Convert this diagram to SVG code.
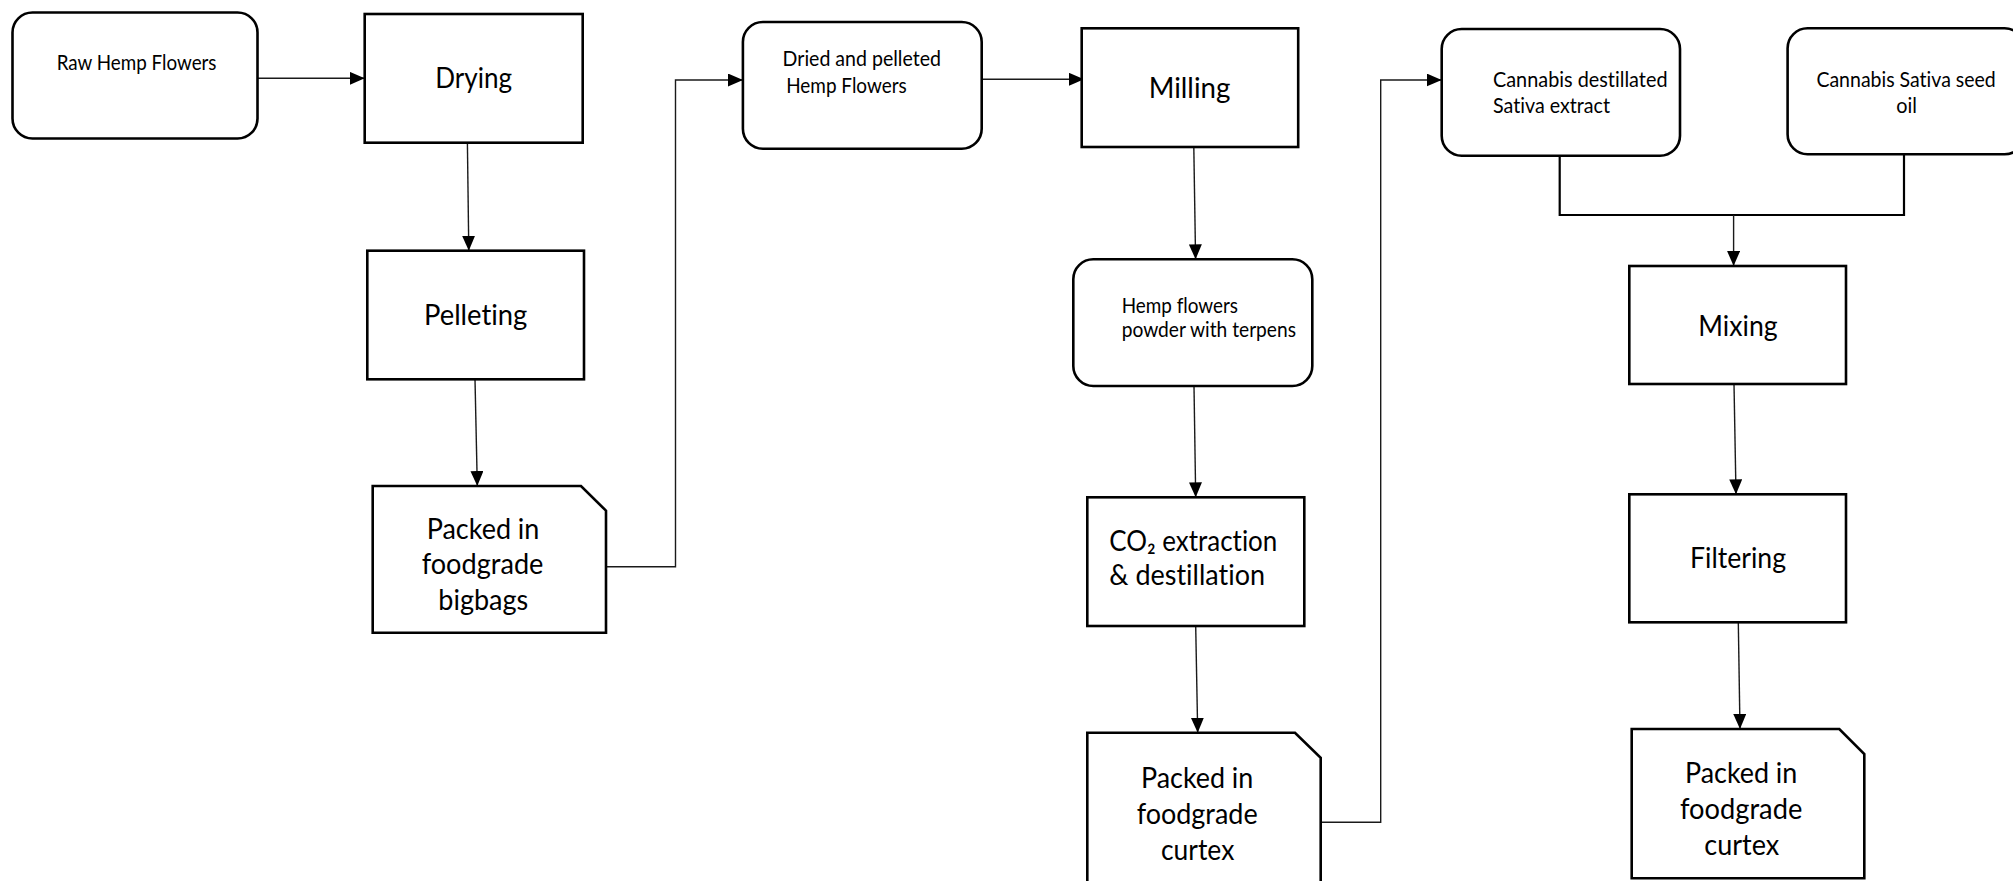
<svg xmlns="http://www.w3.org/2000/svg" width="2013" height="881" viewBox="0 0 2013 881">
<defs>
<style>
.box{fill:#fff;stroke:#000;stroke-width:2.6}
.t{font-family:Lato,"Open Sans","Liberation Sans",sans-serif;fill:#000;font-variant-ligatures:none;font-feature-settings:"liga" 0}
.s{font-size:20.5px}
.l{font-size:29px}
.c{fill:none;stroke:#1a1a1a;stroke-width:1.4}
.cb{fill:none;stroke:#000;stroke-width:2.2}
</style>
<marker id="ah" markerUnits="userSpaceOnUse" viewBox="0 0 15 13" refX="15" refY="6.5" markerWidth="15" markerHeight="13" orient="auto">
<path d="M0,0 L15,6.5 L0,13 Z" fill="#000"/>
</marker>
</defs>
<rect width="2013" height="881" fill="#fff"/>

<g id="connectors">
<path class="c" d="M257.6,78.3 H364.7" marker-end="url(#ah)"/>
<path class="c" d="M467.4,142.7 L468.8,250.7" marker-end="url(#ah)"/>
<path class="c" d="M475,379.3 L477.3,486" marker-end="url(#ah)"/>
<path class="c" d="M606,566.7 H675.5 V80 H743" marker-end="url(#ah)"/>
<path class="c" d="M981.7,79.3 H1084" marker-end="url(#ah)"/>
<path class="c" d="M1193.8,147 L1195.6,259.3" marker-end="url(#ah)"/>
<path class="c" d="M1194,386 L1195.7,497.3" marker-end="url(#ah)"/>
<path class="c" d="M1195.7,626 L1197.7,732.7" marker-end="url(#ah)"/>
<path class="c" d="M1320.7,822.3 H1380.7 V80 H1441.7" marker-end="url(#ah)"/>
<path class="cb" d="M1559.7,155.7 V215 H1904 V153"/>
<path class="c" d="M1733.6,215 V266" marker-end="url(#ah)"/>
<path class="c" d="M1734,384 L1736,494.3" marker-end="url(#ah)"/>
<path class="c" d="M1738.3,622.3 L1740,729" marker-end="url(#ah)"/>
</g>

<g id="raw">
<rect class="box" x="12.5" y="12.5" width="245" height="126" rx="20"/>
<text class="t s" x="56.7" y="70" textLength="159.8" lengthAdjust="spacingAndGlyphs">Raw Hemp Flowers</text>
</g>

<g id="drying">
<rect class="box" x="364.7" y="14" width="218" height="128.7"/>
<text class="t l" x="435.3" y="88.3" textLength="76.8" lengthAdjust="spacingAndGlyphs">Drying</text>
</g>

<g id="pelleting">
<rect class="box" x="367.3" y="250.7" width="216.7" height="128.6"/>
<text class="t l" x="424" y="325" textLength="103.3" lengthAdjust="spacingAndGlyphs">Pelleting</text>
</g>

<g id="bigbags">
<path class="box" d="M372.7,486 H581 L606,510.7 V632.7 H372.7 Z"/>
<text class="t l" x="426.7" y="539.3" textLength="112.7" lengthAdjust="spacingAndGlyphs">Packed in</text>
<text class="t l" x="421.7" y="574.3" textLength="121.7" lengthAdjust="spacingAndGlyphs">foodgrade</text>
<text class="t l" x="438.3" y="610" textLength="90" lengthAdjust="spacingAndGlyphs">bigbags</text>
</g>

<g id="dried">
<rect class="box" x="742.9" y="22" width="238.8" height="126.7" rx="20"/>
<text class="t s" x="782.6" y="65.7" textLength="158.4" lengthAdjust="spacingAndGlyphs">Dried and pelleted</text>
<text class="t s" x="786.2" y="92.7" textLength="120.5" lengthAdjust="spacingAndGlyphs">Hemp Flowers</text>
</g>

<g id="milling">
<rect class="box" x="1081.7" y="28.3" width="216.5" height="118.7"/>
<text class="t l" x="1148.7" y="98.3" textLength="81.7" lengthAdjust="spacingAndGlyphs">Milling</text>
</g>

<g id="powder">
<rect class="box" x="1073.3" y="259.3" width="239" height="126.7" rx="20"/>
<text class="t s" x="1121.7" y="312.7" textLength="116.3" lengthAdjust="spacingAndGlyphs">Hemp flowers</text>
<text class="t s" x="1121.7" y="337.3" textLength="174.3" lengthAdjust="spacingAndGlyphs">powder with terpens</text>
</g>

<g id="co2">
<rect class="box" x="1087.3" y="497.3" width="217" height="128.7"/>
<text class="t l" x="1109.3" y="550.7" textLength="168" lengthAdjust="spacingAndGlyphs">CO₂ extraction</text>
<text class="t l" x="1109.3" y="585" textLength="155.7" lengthAdjust="spacingAndGlyphs">&amp; destillation</text>
</g>

<g id="curtex1">
<path class="box" d="M1087.3,732.7 H1295 L1320.7,757.7 V890 H1087.3 Z"/>
<text class="t l" x="1141" y="788.3" textLength="112.3" lengthAdjust="spacingAndGlyphs">Packed in</text>
<text class="t l" x="1136.7" y="824" textLength="121" lengthAdjust="spacingAndGlyphs">foodgrade</text>
<text class="t l" x="1161" y="860" textLength="73.3" lengthAdjust="spacingAndGlyphs">curtex</text>
</g>

<g id="extract">
<rect class="box" x="1441.7" y="29" width="238.3" height="126.7" rx="20"/>
<text class="t s" x="1493" y="86.7" textLength="174.5" lengthAdjust="spacingAndGlyphs">Cannabis destillated</text>
<text class="t s" x="1493" y="112.7" textLength="117" lengthAdjust="spacingAndGlyphs">Sativa extract</text>
</g>

<g id="seedoil">
<rect class="box" x="1787.6" y="28.3" width="237" height="126" rx="20"/>
<text class="t s" x="1816.4" y="86.7" textLength="179.4" lengthAdjust="spacingAndGlyphs">Cannabis Sativa seed</text>
<text class="t s" x="1896.2" y="112.7" textLength="20.7" lengthAdjust="spacingAndGlyphs">oil</text>
</g>

<g id="mixing">
<rect class="box" x="1629.3" y="266" width="216.7" height="118"/>
<text class="t l" x="1698.3" y="336" textLength="79.3" lengthAdjust="spacingAndGlyphs">Mixing</text>
</g>

<g id="filtering">
<rect class="box" x="1629.3" y="494.3" width="216.7" height="128"/>
<text class="t l" x="1690" y="568.3" textLength="96" lengthAdjust="spacingAndGlyphs">Filtering</text>
</g>

<g id="curtex2">
<path class="box" d="M1631.7,729 H1839.3 L1864.3,754 V878.3 H1631.7 Z"/>
<text class="t l" x="1685" y="783.3" textLength="112.3" lengthAdjust="spacingAndGlyphs">Packed in</text>
<text class="t l" x="1680" y="819.3" textLength="122.3" lengthAdjust="spacingAndGlyphs">foodgrade</text>
<text class="t l" x="1704.3" y="855" textLength="75" lengthAdjust="spacingAndGlyphs">curtex</text>
</g>
</svg>
